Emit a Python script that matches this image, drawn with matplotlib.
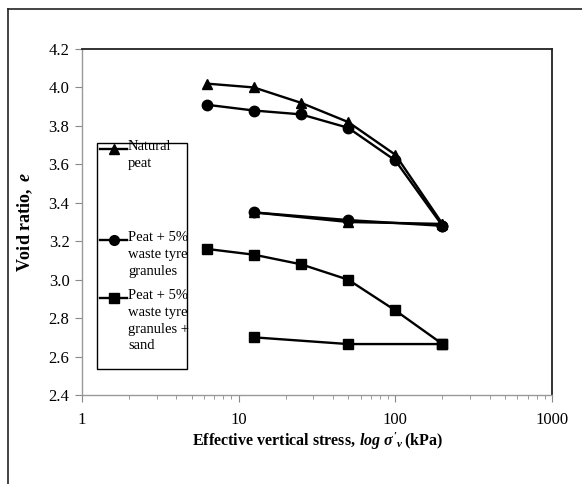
import matplotlib
matplotlib.use("Agg")
import matplotlib.pyplot as plt
from matplotlib.lines import Line2D
from matplotlib.patches import Rectangle
from matplotlib.ticker import FixedLocator, FuncFormatter, LogLocator, NullFormatter

plt.rcParams['font.family'] = ['Liberation Serif', 'DejaVu Serif']
plt.rcParams['mathtext.fontset'] = 'custom'
plt.rcParams['mathtext.rm'] = 'Liberation Serif:bold'
plt.rcParams['mathtext.bf'] = 'Liberation Serif:bold'
plt.rcParams['mathtext.it'] = 'Liberation Serif:bold:italic'

# Data
load_stress = [6.25, 12.5, 25, 50, 100, 200]
unload_stress = [200, 50, 12.5]
natural_load = [4.02, 4.00, 3.92, 3.82, 3.65, 3.29]
natural_unload = [3.29, 3.30, 3.35]
tyre_load = [3.91, 3.88, 3.86, 3.79, 3.62, 3.28]
tyre_unload = [3.28, 3.31, 3.35]
sand_load = [3.16, 3.13, 3.08, 3.00, 2.84, 2.665]
sand_unload = [2.665, 2.665, 2.70]
yticks = [2.4, 2.6, 2.8, 3.0, 3.2, 3.4, 3.6, 3.8, 4.0, 4.2]
xticks = [1, 10, 100, 1000]
legend_labels = ["Natural\npeat", "Peat + 5%\nwaste tyre\ngranules",
                 "Peat + 5%\nwaste tyre\ngranules +\nsand"]

W, H = 582, 484
fig = plt.figure(figsize=(W / 100, H / 100), dpi=100)
ax = fig.add_axes([82 / W, 1 - 395 / H, 470 / W, 346 / H])

series = [
    (natural_load, natural_unload, '^', 7.5),
    (tyre_load, tyre_unload, 'o', 7.5),
    (sand_load, sand_unload, 's', 7.5),
]
for ld, ul, m, ms in series:
    ax.plot(load_stress, ld, color='black', lw=1.7, marker=m, ms=ms)
    ax.plot(unload_stress, ul, color='black', lw=1.7, marker=m, ms=ms)

ax.set_xscale('log')
ax.set_xlim(1, 1000)
ax.set_ylim(2.4, 4.2)
ax.xaxis.set_major_locator(FixedLocator(xticks))
ax.xaxis.set_major_formatter(FuncFormatter(lambda v, p: f"{int(v)}"))
ax.xaxis.set_minor_locator(LogLocator(base=10, subs=range(2, 10)))
ax.xaxis.set_minor_formatter(NullFormatter())
ax.yaxis.set_major_locator(FixedLocator(yticks))
ax.yaxis.set_major_formatter(FuncFormatter(lambda v, p: f"{v:.1f}"))
ax.tick_params(axis='both', which='major', direction='out', length=5,
               color='#888888', labelsize=12)
ax.tick_params(axis='x', which='major', pad=7)
ax.tick_params(axis='y', which='major', pad=4)
ax.tick_params(axis='x', which='minor', direction='out', length=3, color='#888888')
for s in ['left', 'bottom']:
    ax.spines[s].set_color('#999999')
    ax.spines[s].set_linewidth(1.0)
for s in ['top', 'right']:
    ax.spines[s].set_color('#222222')
    ax.spines[s].set_linewidth(1.3)

ax.set_xlabel(r"$\mathbf{Effective\ vertical\ stress,}\!\ \mathit{log\ \sigma'_v}\,\mathbf{(kPa)}$",
              fontsize=11.5, labelpad=2)
ax.set_ylabel(r"$\mathbf{Void\ ratio,}\ \mathit{e}$", fontsize=13, labelpad=10)

# Manual legend (figure pixel coordinates converted to fractions)
def fx(x):
    return x / W

def fy(y):
    return 1 - y / H

fig.patches.append(Rectangle((fx(97), fy(369)), fx(187) - fx(97), fy(143) - fy(369),
                             transform=fig.transFigure, fill=False,
                             edgecolor='black', lw=1.0))
handle_y = [149, 240, 298]
markers = ['^', 'o', 's']
for hy, m, lab in zip(handle_y, markers, legend_labels):
    fig.add_artist(Line2D([fx(100), fx(127)], [fy(hy), fy(hy)], color='black',
                          lw=1.7, marker=None, transform=fig.transFigure))
    fig.add_artist(Line2D([fx(114)], [fy(hy)], color='black', marker=m, ms=7,
                          transform=fig.transFigure))
    fig.text(fx(128), fy(hy - 9), lab, ha='left', va='top', fontsize=10.5,
             linespacing=1.38)

# Outer frame lines (top and left)
fig.add_artist(Line2D([fx(8), 1], [fy(9), fy(9)], color='#222222', lw=1.2,
                      transform=fig.transFigure))
fig.add_artist(Line2D([fx(8), fx(8)], [fy(9), 0], color='#222222', lw=1.2,
                      transform=fig.transFigure))

fig.savefig('out.png', dpi=100)
